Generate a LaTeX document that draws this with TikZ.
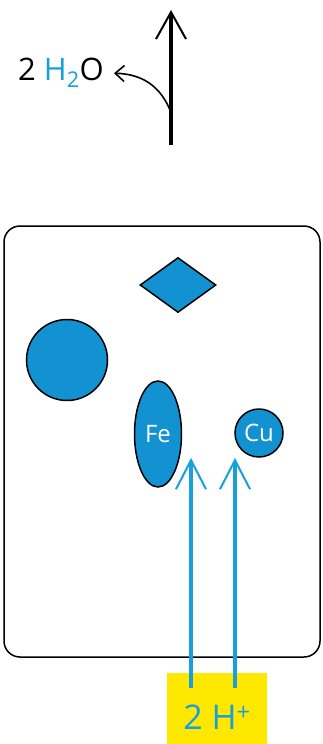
\documentclass[tikz,border=0pt]{standalone}
\usepackage{fontspec}
\setmainfont{Open Sans}
\usepackage{tikz}
\usetikzlibrary{arrows.meta, shapes.geometric}
\definecolor{cell-blue}{RGB}{18,146,208}
\definecolor{ion-blue}{RGB}{22,160,222}
\definecolor{ion-yellow}{RGB}{255,232,0}

\begin{document}
\begin{tikzpicture}[x=1pt, y=-1pt,
    blob/.style={draw=black, fill=cell-blue, line width=1.5pt, inner sep=0pt},
    flow/.style={ion-blue, line width=3.6pt,
      -{Straight Barb[length=29pt, width=30pt, line width=2pt]}},
    lbl/.style={text=white, font=\fontsize{24}{28}\selectfont}]
  \useasboundingbox (0,0) rectangle (323,744);

  % Cellule
  \node[draw, line width=1.5pt, rounded corners=16pt,
        minimum width=316pt, minimum height=431pt] (cell) at (162,441.5) {};

  % Inclusions
  \node[blob, diamond, minimum width=76pt, minimum height=55pt] (gem) at (178,285) {};
  \node[blob, circle, minimum size=81pt] (ball) at (67,360) {};
  \node[blob, ellipse, minimum width=47pt, minimum height=106pt, lbl] (fe) at (158,434) {Fe};
  \node[blob, circle, minimum size=48pt, lbl] (cu) at (259,433) {Cu};

  % Ions H+
  \node[fill=ion-yellow, minimum width=100pt, minimum height=71pt] (ions) at (217,708.5) {};
  \node[text=ion-blue, font=\fontsize{34}{38}\selectfont] (ionlab) at (217,717) {2 H\textsuperscript{+}};
  \coordinate (feIn) at (191,688);
  \coordinate (cuIn) at (235,688);
  \coordinate (feEnd) at (191,458);
  \coordinate (cuEnd) at (235,458);
  \draw[flow] (feIn) -- (feEnd);
  \draw[flow] (cuIn) -- (cuEnd);

  % Eau
  \coordinate (base) at (171,145);
  \coordinate (top) at (171,10);
  \coordinate (fork) at (170,110);
  \draw[line width=3.6pt, -{Straight Barb[length=27pt, width=30pt, line width=2pt]}] (base) -- (top);
  \node[font=\fontsize{31}{36}\selectfont, inner sep=2pt] (water) at (61,73) {2 {\color{ion-blue}H\textsubscript{2}}O};
  \draw[line width=1.6pt, -{Straight Barb[length=9pt, width=16pt, line width=1.6pt]}, shorten >=8pt]
    (fork) .. controls (160,86) and (142,74) .. (water.east);
\end{tikzpicture}
\end{document}
